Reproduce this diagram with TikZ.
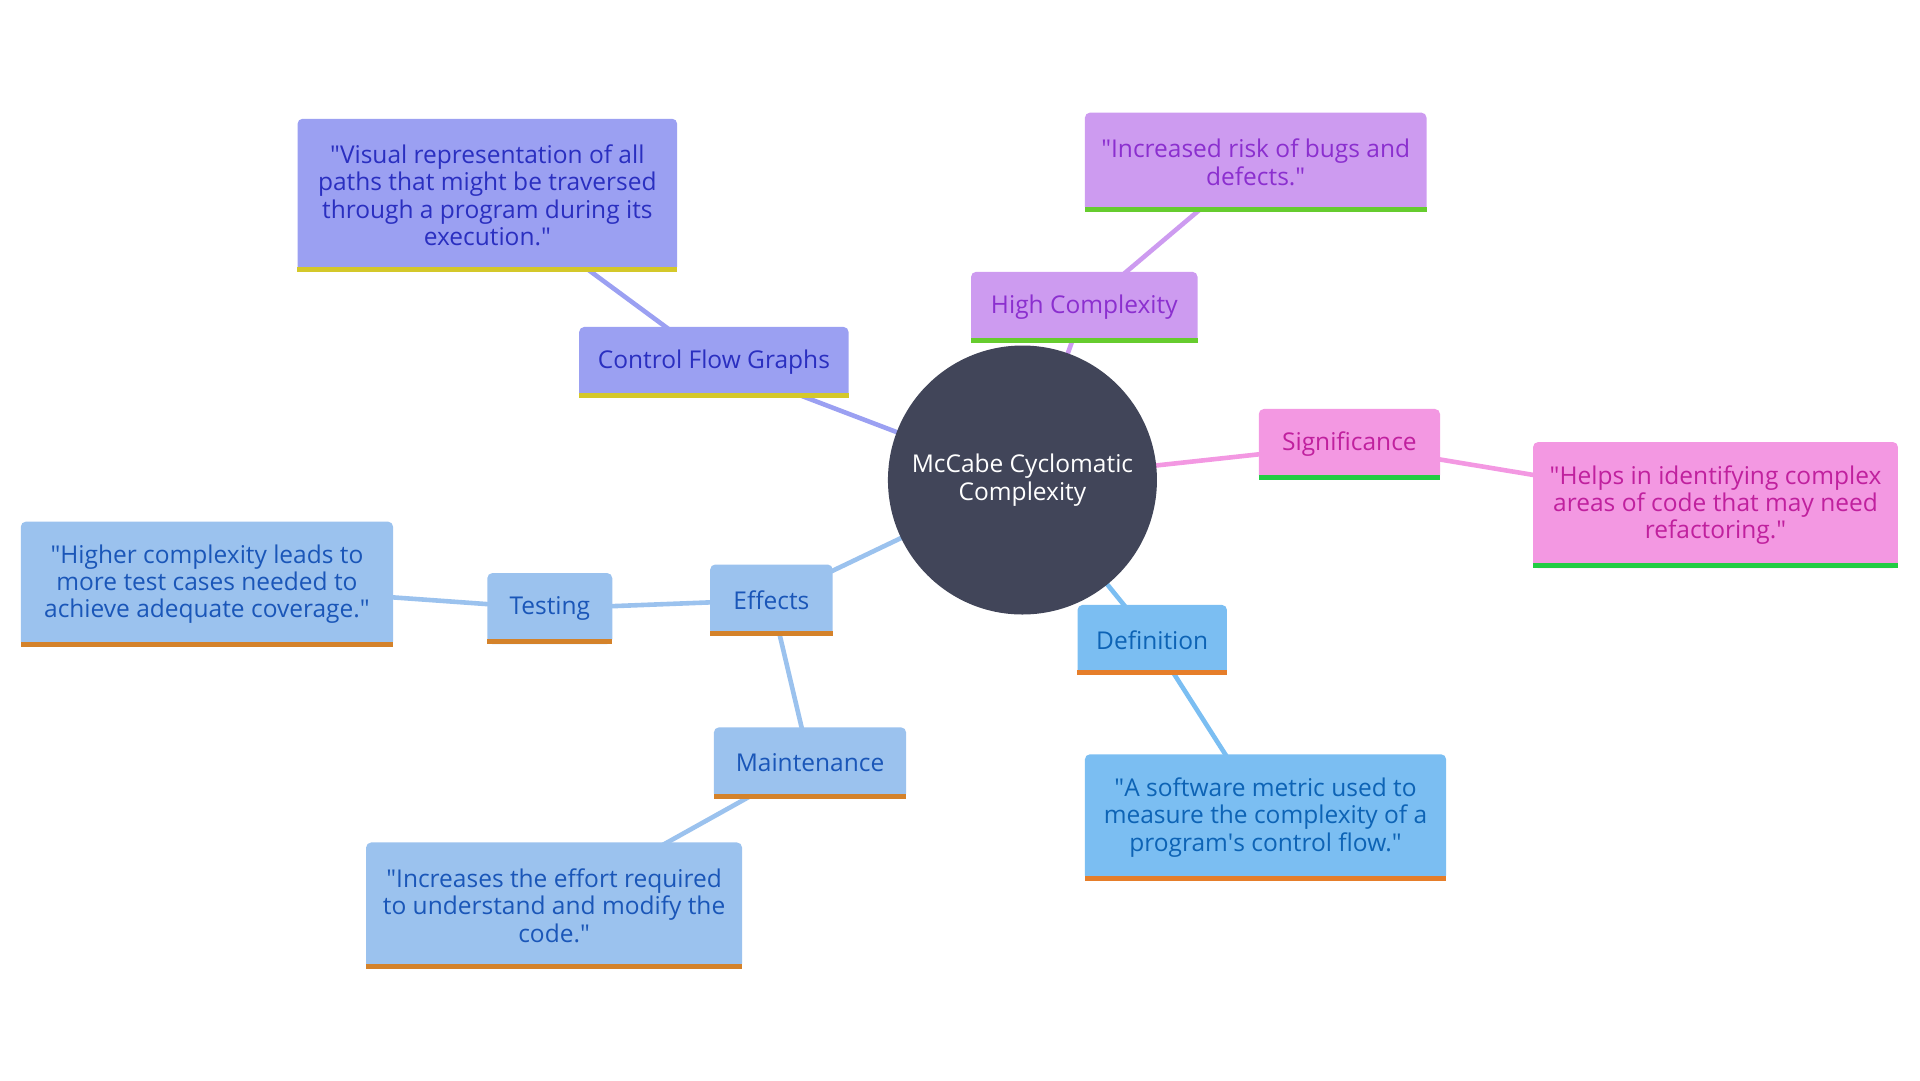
\documentclass[tikz,border=0pt]{standalone}
\usepackage{fontspec}
\setmainfont{Open Sans}
\usetikzlibrary{backgrounds}

\definecolor{hub}{HTML}{414559}
\definecolor{cfgfill}{HTML}{9BA0F2}
\definecolor{cfgtext}{HTML}{2A2FC0}
\definecolor{cfgbar}{HTML}{D4C82A}
\definecolor{hcfill}{HTML}{CD9BF0}
\definecolor{hctext}{HTML}{8B2FCF}
\definecolor{hcbar}{HTML}{66CC2E}
\definecolor{sigfill}{HTML}{F398E2}
\definecolor{sigtext}{HTML}{C0209E}
\definecolor{sigbar}{HTML}{22CC44}
\definecolor{deffill}{HTML}{7BBEF2}
\definecolor{deftext}{HTML}{0D63B5}
\definecolor{defbar}{HTML}{E67E2A}
\definecolor{efffill}{HTML}{9BC2EE}
\definecolor{efftext}{HTML}{1A56B8}
\definecolor{effbar}{HTML}{D4822A}

\newcommand{\q}{\textquotedbl}

\begin{document}
\begin{tikzpicture}[x=1.2245pt, y=-1.2245pt,
        font=\fontsize{24.5}{27.3}\selectfont,
        box/.style={rounded corners=5pt, inner sep=2pt, align=center, minimum height=71pt},
        cfgbox/.style={box, fill=cfgfill, text=cfgtext},
        hcbox/.style={box, fill=hcfill, text=hctext},
        sigbox/.style={box, fill=sigfill, text=sigtext},
        defbox/.style={box, fill=deffill, text=deftext},
        effbox/.style={box, fill=efffill, text=efftext},
        link/.style={line width=4.6pt}
      ]
        \useasboundingbox (0,0) rectangle (1568,882);
        % centre
        \node[circle, fill=hub, text=white, align=center, minimum size=269pt, inner sep=0pt] (mc) at (835,392) {McCabe Cyclomatic\\Complexity};
        % Control Flow Graphs branch
        \node[cfgbox, minimum width=269.4pt] (cfg) at (583,296) {Control Flow Graphs};
        \node[cfgbox, minimum width=379.6pt, minimum height=153.1pt] (vis) at (398,159.5) {\q Visual representation of all\\paths that might be traversed\\through a program during its\\execution.\q};
        % High Complexity branch
        \node[hcbox, minimum width=226.5pt] (hc) at (885.5,251) {High Complexity};
        \node[hcbox, minimum width=341.6pt, minimum height=99.2pt] (risk) at (1025.5,132.5) {\q Increased risk of bugs and\\defects.\q};
        % Significance branch
        \node[sigbox, minimum width=181.2pt] (sig) at (1102,363) {Significance};
        \node[sigbox, minimum width=364.9pt, minimum height=126.1pt] (helps) at (1401,412.5) {\q Helps in identifying complex\\areas of code that may need\\refactoring.\q};
        % Definition branch
        \node[defbox, minimum width=149.4pt, minimum height=69.8pt] (def) at (941,522.5) {Definition};
        \node[defbox, minimum width=361.2pt, minimum height=126.1pt] (metric) at (1033.5,667.5) {\q A software metric used to\\measure the complexity of a\\program\textquotesingle s control flow.\q};
        % Effects branch
        \node[effbox, minimum width=122.5pt] (eff) at (630,490) {Effects};
        \node[effbox, minimum width=124.9pt] (test) at (449,497) {Testing};
        \node[effbox, minimum width=372.2pt, minimum height=124.9pt] (cases) at (169,477) {\q Higher complexity leads to\\more test cases needed to\\achieve adequate coverage.\q};
        \node[effbox, minimum width=192.2pt] (maint) at (661.5,623) {Maintenance};
        \node[effbox, minimum width=375.9pt, minimum height=126.1pt] (effort) at (452.5,739.5) {\q Increases the effort required\\to understand and modify the\\code.\q};
        % bottom bars
        \foreach \n/\c in {cfg/cfgbar, vis/cfgbar, hc/hcbar, risk/hcbar, sig/sigbar, helps/sigbar,
            def/defbar, metric/defbar, eff/effbar, test/effbar, cases/effbar, maint/effbar, effort/effbar}
          \fill[\c] ([yshift=5pt]\n.south west) rectangle (\n.south east);
        % connectors
        \begin{scope}[on background layer]
          \draw[link, cfgfill] (mc.center) -- (cfg.center) -- (vis.center);
          \draw[link, hcfill] (mc.center) -- (hc.center) -- (risk.center);
          \draw[link, sigfill] (mc.center) -- (sig.center) -- (helps.center);
          \draw[link, deffill] (mc.center) -- (def.center) -- (metric.center);
          \draw[link, efffill] (mc.center) -- (eff.center) -- (test.center) -- (cases.center);
          \draw[link, efffill] (eff.center) -- (maint.center) -- (effort.center);
        \end{scope}
      \end{tikzpicture}
\end{document}
